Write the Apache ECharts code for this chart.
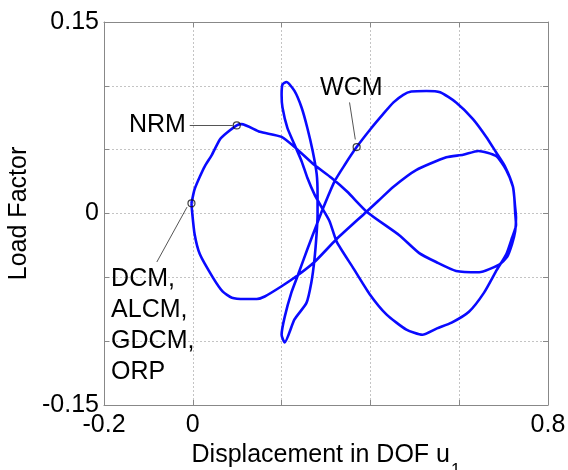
<!DOCTYPE html>
<html><head><meta charset="utf-8">
<script src="https://cdn.jsdelivr.net/npm/echarts@6/dist/echarts.min.js"></script>
<style>html,body{margin:0;padding:0;background:#fff}#c{width:568px;height:470px}</style>
</head><body><div id="c"></div>
<script>
// Branch 1: from DCM point up to NRM point
const segA = [[-0.003,0.008],[0.004,0.019],[0.016,0.029],[0.027,0.037],[0.043,0.046],[0.061,0.058],[0.076,0.063],[0.099,0.069]];
// Branch 2: NRM diagonal, lower middle arc, right side, outer top arc, WCM, down to narrow loop bottom
const segB = [[0.110,0.070],[0.151,0.064],[0.200,0.060],[0.236,0.050],[0.274,0.038],[0.312,0.028],[0.348,0.017],[0.393,0.001],[0.465,-0.017],[0.510,-0.031],[0.548,-0.038],[0.593,-0.045],[0.645,-0.046],[0.690,-0.040],[0.708,-0.034],[0.719,-0.024],[0.726,-0.014],[0.728,-0.003],[0.726,0.005],[0.721,0.021],[0.703,0.037],[0.683,0.048],[0.661,0.060],[0.631,0.074],[0.593,0.087],[0.557,0.095],[0.526,0.096],[0.492,0.0955],[0.474,0.093],[0.452,0.087],[0.429,0.078],[0.400,0.066],[0.369,0.052],[0.342,0.038],[0.319,0.025],[0.292,0.003],[0.281,-0.007],[0.258,-0.028],[0.236,-0.049],[0.222,-0.062],[0.207,-0.081],[0.200,-0.095],[0.207,-0.101]];
// Branch 3: narrow loop, big lower arc, inner arc, bottom-left lobe back to DCM
const segC = [[0.229,-0.083],[0.256,-0.070],[0.267,-0.054],[0.274,-0.036],[0.279,-0.015],[0.281,-0.001],[0.281,0.015],[0.279,0.031],[0.270,0.049],[0.258,0.067],[0.245,0.083],[0.229,0.096],[0.211,0.103],[0.202,0.101],[0.200,0.093],[0.202,0.083],[0.213,0.067],[0.229,0.054],[0.245,0.041],[0.258,0.028],[0.274,0.015],[0.290,0.005],[0.308,-0.006],[0.324,-0.022],[0.360,-0.042],[0.398,-0.063],[0.436,-0.079],[0.481,-0.091],[0.517,-0.095],[0.550,-0.090],[0.583,-0.0855],[0.622,-0.077],[0.656,-0.062],[0.685,-0.044],[0.706,-0.032],[0.719,-0.019],[0.728,-0.009],[0.726,0.001],[0.724,0.013],[0.721,0.021],[0.706,0.034],[0.683,0.045],[0.643,0.049],[0.609,0.046],[0.571,0.044],[0.503,0.034],[0.452,0.021],[0.418,0.010],[0.390,0.001],[0.324,-0.020],[0.274,-0.038],[0.234,-0.049],[0.200,-0.057],[0.162,-0.065],[0.144,-0.067],[0.117,-0.067],[0.088,-0.066],[0.067,-0.061],[0.045,-0.050],[0.016,-0.032],[0.004,-0.016],[-0.002,0.003]];

const markerNames = ['DCM','NRM','WCM'];
const markerX = [-0.003, 0.099, 0.369];
const markerY = [0.008, 0.069, 0.052];

const xTickValues = [-0.2, 0, 0.8];
const xTickLabels = ['-0.2', '0', '0.8'];
const yTickValues = [-0.15, 0, 0.15];
const yTickLabels = ['-0.15', '0', '0.15'];

const annotationTexts = ['NRM', 'WCM', 'DCM,\nALCM,\nGDCM,\nORP'];
const annotationAnchors = [[-0.011, 0.069], [0.357, 0.098], [-0.184, -0.0395]];
const arrowStarts = [[-0.007, 0.069], [0.353, 0.087], [-0.081, -0.038]];
const arrowEnds = [[0.090, 0.069], [0.366, 0.058], [-0.013, 0.005]];

const FONT = "'Liberation Sans', Arial, Helvetica, sans-serif";
const pathData = segA.concat(segB, segC, [segA[0]]);

function pick(vals, labels) {
  return function (v) {
    for (let i = 0; i < vals.length; i++) if (Math.abs(v - vals[i]) < 1e-9) return labels[i];
    return '';
  };
}

const frameColor = '#888';
const chart = echarts.init(document.getElementById('c'), null, {renderer: 'canvas'});
const labelPlacements = [
  {position: 'left', distance: 2},
  {position: 'inside'},
  {position: 'inside', align: 'left', verticalAlign: 'top', lineHeight: 31}
];

chart.setOption({
  animation: false,
  backgroundColor: '#fff',
  grid: {left: 104, right: 20, top: 22, bottom: 65, containLabel: false, outerBoundsMode: 'none'},
  xAxis: [{
    type: 'value', min: -0.2, max: 0.8, interval: 0.2, position: 'bottom',
    axisLine: {show: true, onZero: false, lineStyle: {color: frameColor, width: 1}},
    axisTick: {show: true, inside: true, length: 5, lineStyle: {color: frameColor}},
    axisLabel: {color: '#000', fontSize: 25, fontFamily: FONT, margin: 8, showMinLabel: true, showMaxLabel: true, formatter: pick(xTickValues, xTickLabels)},
    splitLine: {show: true, lineStyle: {type: [2, 2], color: '#c4c4c4', width: 1}},
    name: '{m|Displacement in DOF u}{s|1}', nameLocation: 'middle', nameGap: 27,
    nameTextStyle: {color: '#000', fontFamily: FONT, rich: {
      m: {fontSize: 25, fontFamily: FONT, color: '#000', verticalAlign: 'top', lineHeight: 25},
      s: {fontSize: 17, fontFamily: FONT, color: '#000', verticalAlign: 'top', lineHeight: 17, padding: [19, 0, 0, 1]}
    }}
  }, {
    type: 'value', min: -0.2, max: 0.8, interval: 0.2, position: 'top',
    axisLine: {show: true, onZero: false, lineStyle: {color: frameColor, width: 1}},
    axisTick: {show: true, inside: true, length: 5, lineStyle: {color: frameColor}},
    axisLabel: {show: false}, splitLine: {show: false}
  }],
  yAxis: [{
    type: 'value', min: -0.15, max: 0.15, interval: 0.05, position: 'left',
    axisLine: {show: true, onZero: false, lineStyle: {color: frameColor, width: 1}},
    axisTick: {show: true, inside: true, length: 5, lineStyle: {color: frameColor}},
    axisLabel: {color: '#000', fontSize: 25, fontFamily: FONT, margin: 5, showMinLabel: true, showMaxLabel: true, formatter: pick(yTickValues, yTickLabels)},
    splitLine: {show: true, lineStyle: {type: [2, 2], color: '#c4c4c4', width: 1}},
    name: 'Load Factor', nameLocation: 'middle', nameGap: 72,
    nameTextStyle: {color: '#000', fontSize: 25, fontFamily: FONT}
  }, {
    type: 'value', min: -0.15, max: 0.15, interval: 0.05, position: 'right',
    axisLine: {show: true, onZero: false, lineStyle: {color: frameColor, width: 1}},
    axisTick: {show: true, inside: true, length: 5, lineStyle: {color: frameColor}},
    axisLabel: {show: false}, splitLine: {show: false}
  }],
  series: [{
    type: 'line', name: 'path', data: pathData, showSymbol: false, smooth: 0.2,
    lineStyle: {color: '#0a0aff', width: 2.6}, z: 2, silent: true
  }, {
    type: 'scatter', name: 'points',
    data: markerNames.map((n, i) => ({name: n, value: [markerX[i], markerY[i]]})),
    symbol: 'circle', symbolSize: 7,
    itemStyle: {color: 'rgba(0,0,0,0)', borderColor: '#111', borderWidth: 1.2},
    z: 4, silent: true,
    markLine: {
      silent: true, animation: false,
      symbol: ['none', 'arrow'], symbolSize: [0, 9],
      label: {show: false},
      lineStyle: {color: '#555', width: 1, type: 'solid'},
      data: arrowStarts.map((s, i) => [{coord: s}, {coord: arrowEnds[i]}])
    }
  }, {
    type: 'scatter', name: 'annotations', symbolSize: 0, silent: true, z: 5,
    itemStyle: {color: 'rgba(0,0,0,0)'},
    label: {show: true, color: '#000', opacity: 1, fontSize: 25, fontFamily: FONT},
    data: annotationTexts.map((t, i) => ({
      value: annotationAnchors[i],
      label: Object.assign({show: true, formatter: t, color: '#000', opacity: 1, fontSize: 25, fontFamily: FONT}, labelPlacements[i])
    }))
  }]
});
</script></body></html>
